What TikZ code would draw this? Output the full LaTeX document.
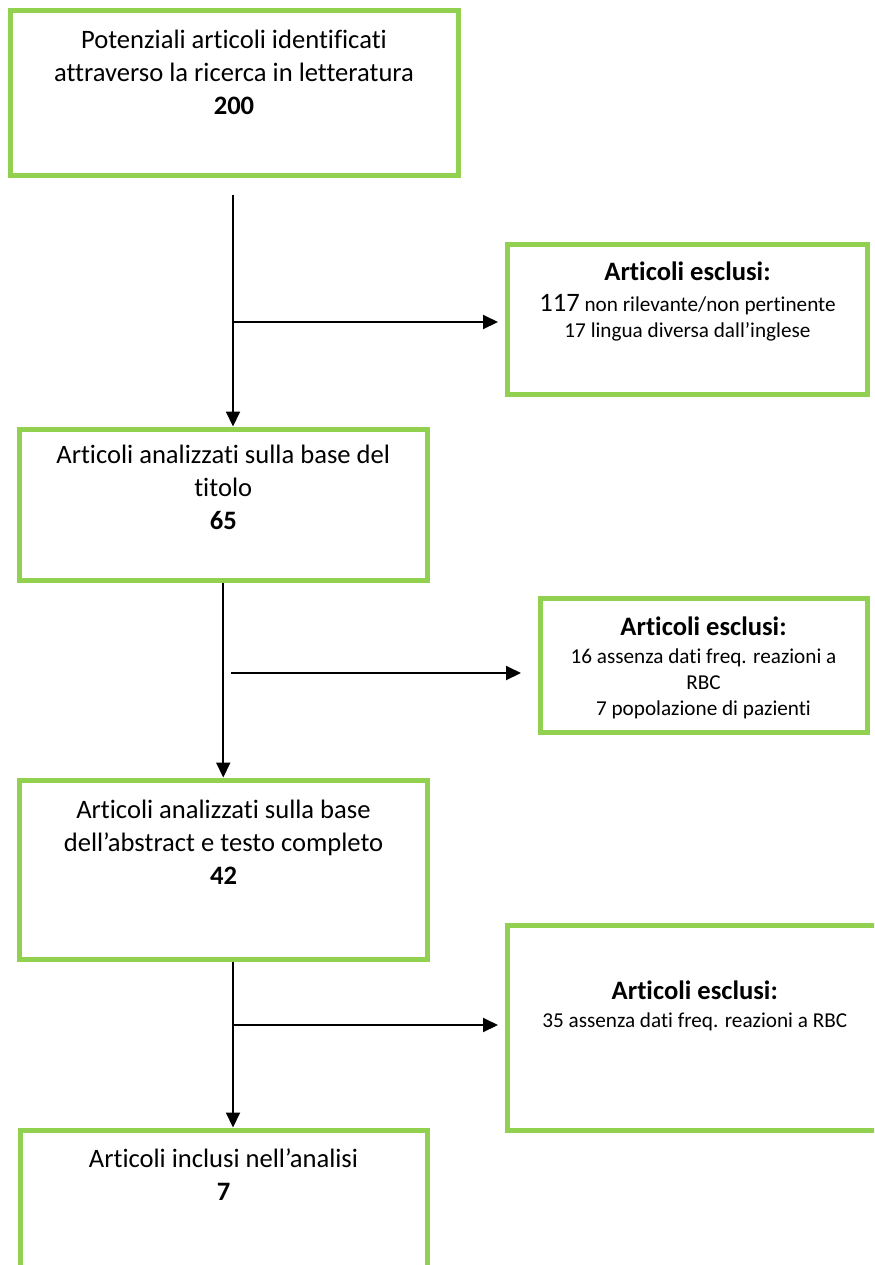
\documentclass[tikz,border=0pt]{standalone}
\usepackage{fontspec}
\setmainfont{Carlito}[Ligatures={NoCommon}]
\usepackage{xcolor}
\definecolor{boxgreen}{RGB}{146,208,80}
\usetikzlibrary{arrows.meta,positioning,calc}

\newcommand{\bigtxt}{\fontsize{13.3}{16.5}\selectfont}
\newcommand{\smalltxt}{\fontsize{10.6}{13}\selectfont}

\begin{document}
\begin{tikzpicture}[
            x=0.5pt, y=-0.5pt,
            >={Triangle[length=7.5pt,width=7pt]},
            stage box/.style={rectangle,draw=boxgreen,line width=2.5pt,fill=white},
            box text/.style={align=center,inner sep=0pt,font=\bigtxt},
            excl text/.style={align=center,inner sep=0pt,font=\smalltxt},
            flow/.style={->,line width=1pt}
        ]
            \useasboundingbox (0,0) rectangle (874,1265);
            \clip (0,0) rectangle (874,1265);

            % boxes
            \node[stage box,minimum width=224pt,minimum height=82.5pt] (found) at (234,93) {};
            \node[stage box,minimum width=180pt,minimum height=75.25pt] (excl1) at (687.5,319.25) {};
            \node[stage box,minimum width=203.75pt,minimum height=75.5pt] (title) at (223.25,504.5) {};
            \node[stage box,minimum width=163.5pt,minimum height=67pt] (excl2) at (703.5,665) {};
            \node[stage box,minimum width=204pt,minimum height=89.5pt] (abst) at (223.5,869.5) {};
            \node[stage box,minimum width=187.25pt,minimum height=102.5pt] (excl3) at (694.75,1027.5) {};
            \node[stage box,minimum width=203.5pt,minimum height=90pt] (incl) at (223.5,1220) {};

            % texts
            \node[box text,below=10.7pt of found.north] (foundtxt) {Potenziali articoli identificati\\attraverso la ricerca in letteratura\\\textbf{200}};
            \node[excl text,below=9.95pt of excl1.north] (excl1txt) {{\bigtxt\bfseries Articoli esclusi:}\\[2.5pt]{\bigtxt 117} non rilevante/non pertinente\\17 lingua diversa dall’inglese};
            \node[box text,below=8.95pt of title.north] (titletxt) {Articoli analizzati sulla base del\\titolo\\\textbf{65}};
            \node[excl text,below=10.45pt of excl2.north] (excl2txt) {{\bigtxt\bfseries Articoli esclusi:}\\[1pt]16 assenza dati freq. reazioni a\\RBC\\7 popolazione di pazienti};
            \node[box text,below=11.25pt of abst.north] (absttxt) {Articoli analizzati sulla base\\dell’abstract e testo completo\\\textbf{42}};
            \node[excl text,below=28.95pt of excl3.north] (excl3txt) {{\bigtxt\bfseries Articoli esclusi:}\\[1pt]35 assenza dati freq. reazioni a RBC};
            \node[box text,below=10.3pt of incl.north] (incltxt) {Articoli inclusi nell’analisi\\\textbf{7}};

            % connectors
            \coordinate (start1) at (233,195);
            \coordinate (c1) at (233,322);
            \coordinate (c2) at (231,673);
            \coordinate (c3) at (233,1025);

            \draw[flow] (start1) -- (start1 |- title.north);
            \draw[flow] (c1) -- ($(excl1.west |- c1)+(-7,0)$);
            \draw[flow] (title.south) -- (title.south |- abst.north);
            \draw[flow] (c2) -- ($(excl2.west |- c2)+(-16.5,0)$);
            \draw[flow] (abst.south -| c3) -- (incl.north -| c3);
            \draw[flow] (c3) -- ($(excl3.west |- c3)+(-7,0)$);
        \end{tikzpicture}
\end{document}
